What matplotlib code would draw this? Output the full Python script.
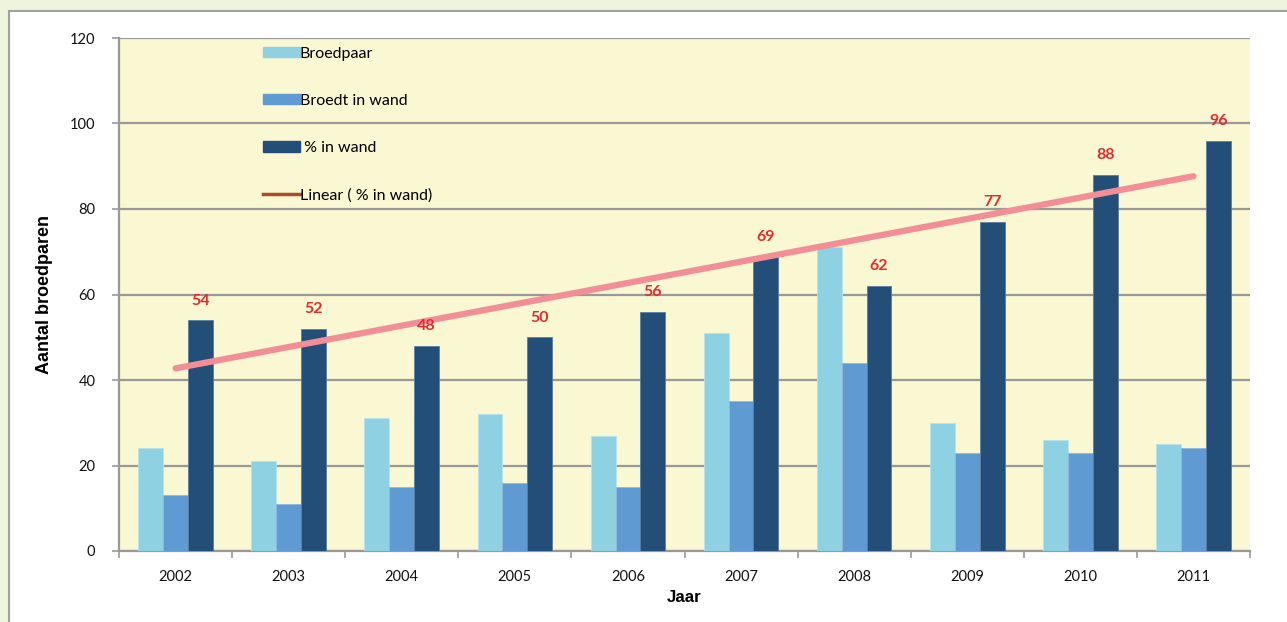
import numpy as np
import matplotlib.pyplot as plt
from matplotlib.patches import Patch, Rectangle
from matplotlib.lines import Line2D

plt.rcParams['font.family'] = ['Lato', 'DejaVu Sans']

# data
jaren = ['2002', '2003', '2004', '2005', '2006', '2007', '2008', '2009', '2010', '2011']
broedpaar = [24, 21, 31, 32, 27, 51, 71, 30, 26, 25]
broedt_in_wand = [13, 11, 15, 16, 15, 35, 44, 23, 23, 24]
pct_in_wand = [54, 52, 48, 50, 56, 69, 62, 77, 88, 96]

c_light = '#8ED1E2'
c_mid = '#5F9BD2'
c_dark = '#234E78'
c_trend = '#F28E96'
c_label = '#E52A2E'

fig = plt.figure(figsize=(12.87, 6.22), dpi=100)
fig.patch.set_facecolor('#EEF5DC')
# wit paneel
fig.patches.append(Rectangle((9 / 1287, -0.1), 1.2, 1.1 - 11 / 622, transform=fig.transFigure,
                             facecolor='white', edgecolor='#A0A0A0', linewidth=1.5, zorder=-5))

ax = fig.add_axes([119 / 1287, 1 - 551 / 622, 1131 / 1287, 513 / 622])
ax.set_facecolor('#FAF7D3')

x = np.arange(len(jaren))
w = 0.22
ax.bar(x - w, broedpaar, w, color=c_light, edgecolor='#B8E2EC', linewidth=0.6, zorder=3)
ax.bar(x, broedt_in_wand, w, color=c_mid, edgecolor='#8DB8DE', linewidth=0.6, zorder=3)
ax.bar(x + w, pct_in_wand, w, color=c_dark, edgecolor='#5A7C9E', linewidth=0.6, zorder=3)

# lineaire trendlijn
coef = np.polyfit(x, pct_in_wand, 1)
ax.plot(x, np.polyval(coef, x), color=c_trend, linewidth=4.5, solid_capstyle='round', zorder=4)

for xi, v in zip(x, pct_in_wand):
    ax.annotate(str(v), (xi + w, v), xytext=(0, 9), textcoords='offset points',
                ha='center', va='bottom', color=c_label, fontsize=11.5, fontweight='bold', zorder=5)

ax.set_xlim(-0.5, len(jaren) - 0.5)
ax.set_ylim(0, 120)
ax.set_yticks(range(0, 121, 20))
ax.yaxis.grid(True, color='#999999', linewidth=1.6, zorder=1)
ax.set_axisbelow(True)
ax.set_xticks(x)
ax.set_xticklabels(jaren)
ax.set_xticks(np.arange(-0.5, len(jaren)), minor=True)
ax.tick_params(axis='x', which='major', length=0, pad=14, labelsize=10.5, colors='#111111')
ax.tick_params(axis='x', which='minor', length=5, width=1.2, color='#999999')
ax.tick_params(axis='y', length=5, width=1.2, color='#999999', pad=12, labelsize=10.5, labelcolor='#111111')
for s in ['top', 'right']:
    ax.spines[s].set_visible(False)
for s in ['left', 'bottom']:
    ax.spines[s].set_color('#999999')
    ax.spines[s].set_linewidth(1.6)

ax.set_ylabel('Aantal broedparen', fontsize=13, fontweight='bold', family='Liberation Sans')
ax.yaxis.set_label_coords(-0.0584, 0.5)
ax.set_xlabel('Jaar', fontsize=12.2, fontweight='bold', family='Liberation Sans')
ax.xaxis.set_label_coords(0.5, -0.076)

handles = [Patch(color=c_light), Patch(color=c_mid), Patch(color=c_dark),
           Line2D([], [], color='#A84F28', linewidth=2.5)]
labels = ['Broedpaar', 'Broedt in wand', ' % in wand', 'Linear ( % in wand)']
leg = ax.legend(handles, labels, loc='upper left', bbox_to_anchor=(0.1216, 0.995), frameon=False,
                fontsize=11.5, handlelength=2.3, handleheight=0.6, handletextpad=0.0,
                labelspacing=2.07, borderpad=0.4, borderaxespad=0)
leg.set_zorder(6)

fig.savefig('out.png', dpi=100, facecolor=fig.get_facecolor())
